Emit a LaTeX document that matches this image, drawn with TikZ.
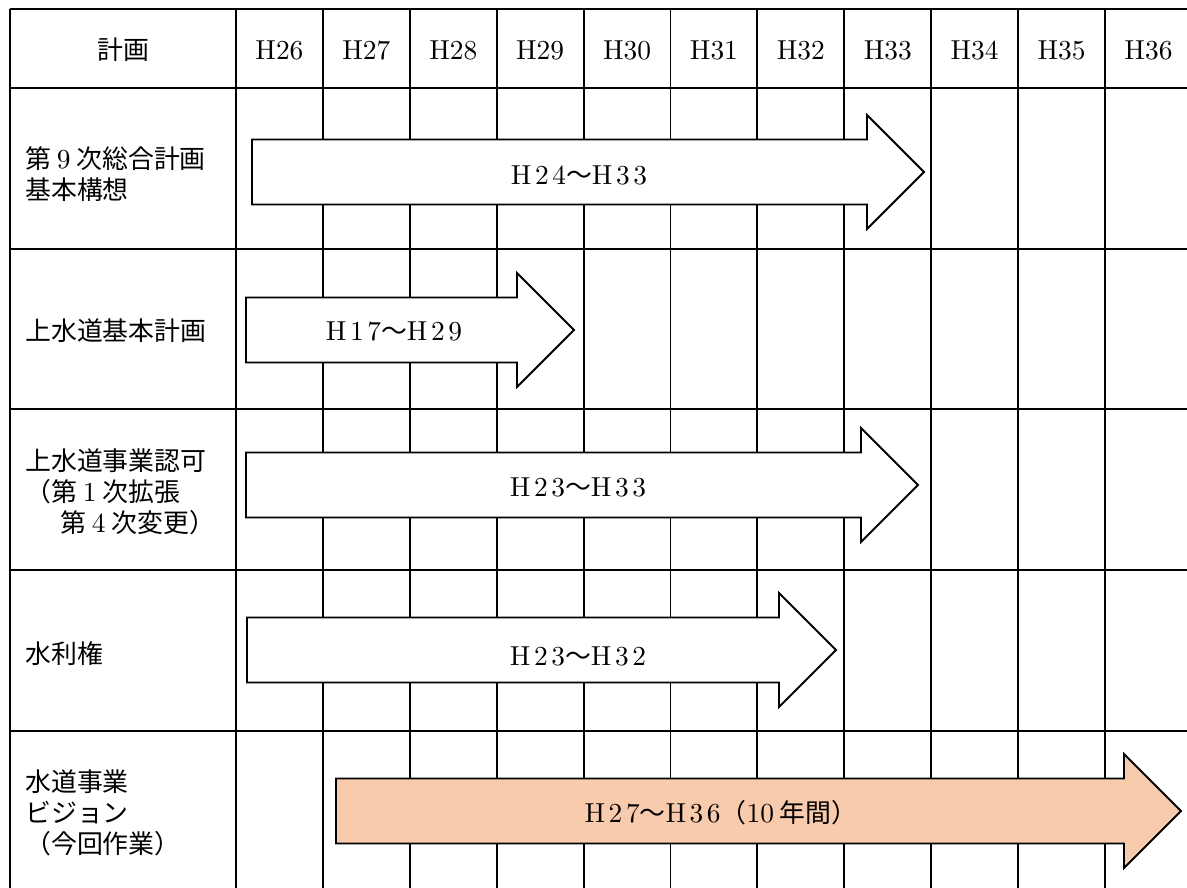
\documentclass[tikz,border=0pt]{standalone}
\usepackage{fontspec}
\newfontfamily\jp{Noto Sans CJK JP}
\newfontfamily\lm{lmroman10-regular}[Extension=.otf, Scale=1.06]
\newfontfamily\lmsp{lmroman10-regular}[Extension=.otf, Scale=1.06, LetterSpace=13]
\definecolor{visionfill}{RGB}{248,203,173}
\newcommand{\period}[2]{{\lmsp H#1}{\jp ～}{\lmsp H#2}}
% bar arrow: [fill] left x, tip x, centre y
\newcommand{\planbar}[4][white]{%
  \filldraw[bar, fill=#1] (#2,#4-32.5) -- (#3-57,#4-32.5) -- (#3-57,#4-57)
    -- (#3,#4) -- (#3-57,#4+57) -- (#3-57,#4+32.5) -- (#2,#4+32.5) -- cycle;}
\begin{document}
\begin{tikzpicture}[x=0.025cm, y=-0.025cm,
        every node/.style={inner sep=0pt, font=\jp\fontsize{18.4}{22}\selectfont},
        gridline/.style={line width=1.4pt},
        bar/.style={line width=1.3pt, draw=black}]
    \useasboundingbox (0,0) rectangle (1187,887);
    \clip (0,0) rectangle (1187,887);

    % table
    \foreach \y in {9,88,249,409,570,731,891}
        \draw[gridline] (10,\y) -- (1192,\y);
    \draw[gridline] (10,9) -- (10,891);
    \foreach \i in {0,...,11}
        \draw[gridline] (236+86.9*\i,9) -- (236+86.9*\i,891);

    % header
    \node (plan) at (123,50) {計画};
    \foreach \n [count=\i from 0] in {26,...,36}
        \node (h\n) at (279.45+86.9*\i,50) {\lm H\n};

    % plans
    \node[anchor=west, align=left] (kihon) at (25,174)
        {第~{\lm 9}~次総合計画\\基本構想};
    \node[anchor=west, align=left] (josuido) at (25,331) {上水道基本計画};
    \node[anchor=west, align=left] (ninka) at (25,492)
        {上水道事業認可\\（第~{\lm 1}~次拡張\\\hspace*{1.35em}第~{\lm 4}~次変更）};
    \node[anchor=west, align=left] (suiriken) at (25,654) {水利権};
    \node[anchor=west, align=left] (vision) at (25,813)
        {水道事業\\ビジョン\\（今回作業）};

    % periods
    \planbar{252}{924}{172}
    \planbar{246}{574}{330}
    \planbar{246}{918}{485}
    \planbar{247}{836}{650}
    \planbar[visionfill]{336}{1181}{811}

    \node (span1) at (579,175) {\period{24}{33}};
    \node (span2) at (394,331) {\period{17}{29}};
    \node (span3) at (578,487) {\period{23}{33}};
    \node (span4) at (578,656) {\period{23}{32}};
    \node (span5) at (721,813) {\period{27}{36}（{\lm 10}~年間）};
\end{tikzpicture}
\end{document}
